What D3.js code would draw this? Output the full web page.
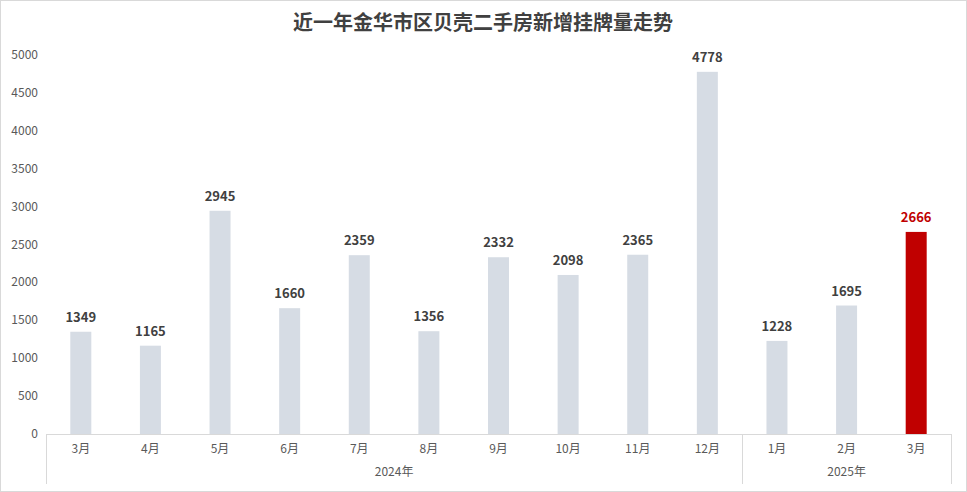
<!DOCTYPE html>
<html><head><meta charset="utf-8">
<script src="https://cdn.jsdelivr.net/npm/d3@7"></script>
<style>
body{margin:0;background:#fff;font-family:"Microsoft YaHei","Noto Sans CJK SC",sans-serif}
svg{display:block}
</style></head><body>
<svg id="chart" width="967" height="492"></svg>
<script>
const months = ['3月','4月','5月','6月','7月','8月','9月','10月','11月','12月','1月','2月','3月'];
const values = [1349,1165,2945,1660,2359,1356,2332,2098,2365,4778,1228,1695,2666];
const years = [{label:'2024年', from:0, to:9},{label:'2025年', from:10, to:12}];
const yTicks = [0,500,1000,1500,2000,2500,3000,3500,4000,4500,5000];

const svg = d3.select('#chart');
const plotLeft = 46, plotRight = 951, plotTop = 55, plotBottom = 434;

svg.append('rect').attr('x',0.5).attr('y',0.5).attr('width',966).attr('height',491)
  .attr('fill','#fff').attr('stroke','#d9d9d9');

svg.append('text').attr('x',483).attr('y',30).attr('text-anchor','middle')
  .attr('font-size',20).attr('font-weight','bold').attr('fill','#404040')
  .text('近一年金华市区贝壳二手房新增挂牌量走势');

const x = d3.scaleBand().domain(d3.range(months.length)).range([plotLeft,plotRight]);
const y = d3.scaleLinear().domain([0,5000]).range([plotBottom,plotTop]);

// y axis labels
svg.selectAll('.yt').data(yTicks).enter().append('text')
  .attr('x',38).attr('y',d=>y(d)+4).attr('text-anchor','end')
  .attr('font-size',12).attr('fill','#595959').text(d=>d);

const bw = 21;
svg.selectAll('.bar').data(values).enter().append('rect')
  .attr('x',(d,i)=>x(i)+x.bandwidth()/2-bw/2).attr('y',d=>y(d))
  .attr('width',bw).attr('height',d=>plotBottom-y(d))
  .attr('fill',(d,i)=>i===values.length-1?'#c00000':'#d6dce4');

svg.selectAll('.lbl').data(values).enter().append('text')
  .attr('x',(d,i)=>x(i)+x.bandwidth()/2).attr('y',d=>y(d)-10)
  .attr('text-anchor','middle').attr('font-size',13).attr('font-weight','bold')
  .attr('fill',(d,i)=>i===values.length-1?'#c00000':'#404040').text(d=>d);

// category axis
const axisColor = '#d9d9d9';
svg.append('line').attr('x1',plotLeft).attr('x2',plotRight).attr('y1',plotBottom+0.5).attr('y2',plotBottom+0.5).attr('stroke',axisColor);
svg.selectAll('.mt').data(months).enter().append('text')
  .attr('x',(d,i)=>x(i)+x.bandwidth()/2).attr('y',453).attr('text-anchor','middle')
  .attr('font-size',12).attr('fill','#595959').text(d=>d);
const seps = [plotLeft, x(years[1].from), plotRight];
svg.selectAll('.sep').data(seps).enter().append('line')
  .attr('x1',d=>Math.round(d)+0.5).attr('x2',d=>Math.round(d)+0.5)
  .attr('y1',plotBottom).attr('y2',484).attr('stroke',axisColor);
svg.selectAll('.yr').data(years).enter().append('text')
  .attr('x',d=>(x(d.from)+x(d.to)+x.bandwidth())/2).attr('y',476).attr('text-anchor','middle')
  .attr('font-size',12).attr('fill','#595959').text(d=>d.label);
</script></body></html>
